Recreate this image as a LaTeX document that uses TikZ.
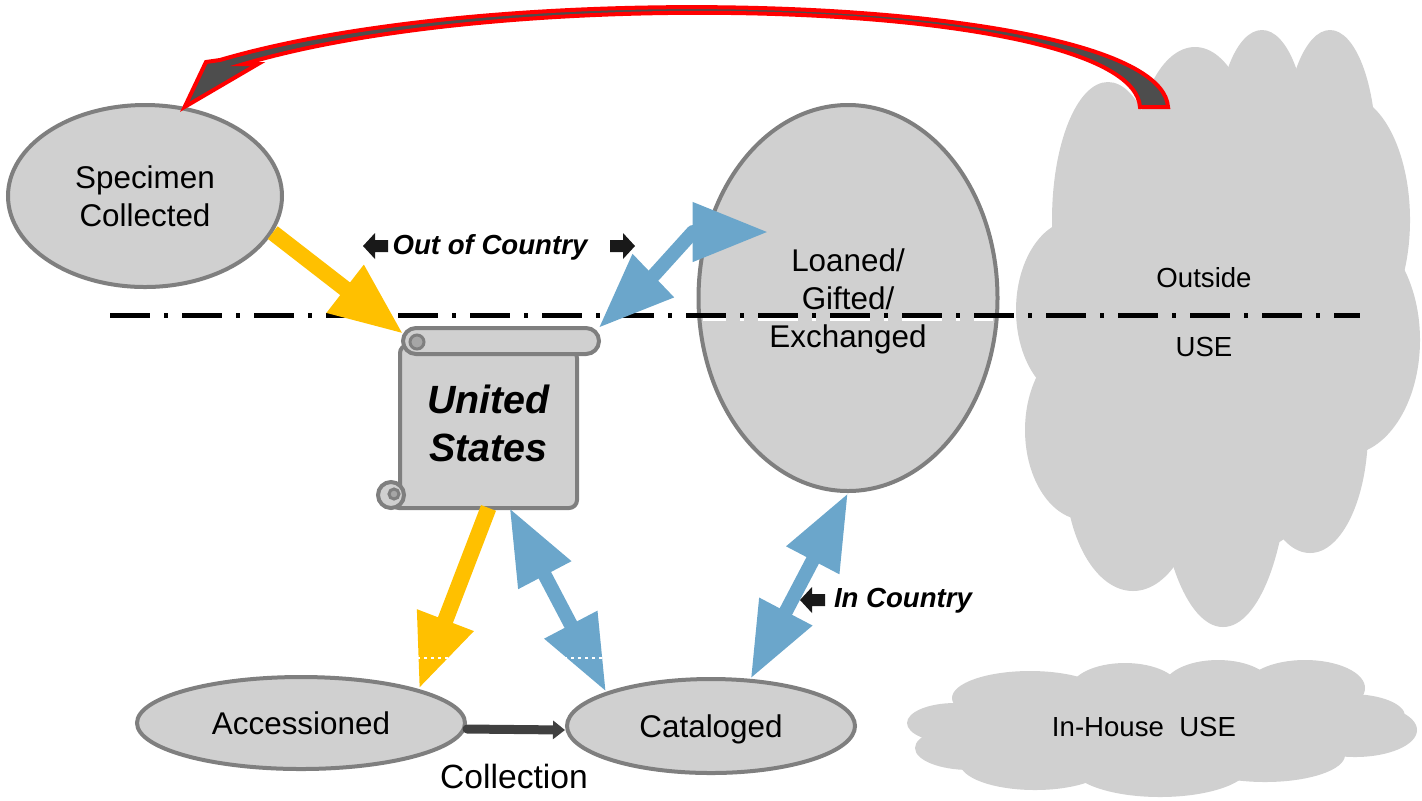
\documentclass[tikz,border=0pt]{standalone}
\usepackage{fontspec}
\setmainfont{Liberation Sans}
\usepackage{tikz}
\usetikzlibrary{arrows.meta,shapes.geometric}
\pgfdeclarelayer{background}
\pgfdeclarelayer{foreground}
\pgfsetlayers{background,main,foreground}
\definecolor{fillgray}{HTML}{D0D0D0}
\definecolor{rimgray}{HTML}{7F7F7F}
\definecolor{curlgray}{HTML}{A6A6A6}
\definecolor{gold}{HTML}{FFC000}
\definecolor{steel}{HTML}{6BA6CB}
\definecolor{inkgray}{HTML}{404040}
\definecolor{bandgray}{HTML}{4D4D4D}
\tikzset{
  stage/.style={ellipse, draw=rimgray, fill=fillgray, line width=2pt, inner sep=0pt, align=center, text depth=0pt, font=\fontsize{15.7}{19}\selectfont},
  scroll/.style={draw=rimgray, fill=fillgray, line width=2pt},
  goldflow/.style={draw=gold, line width=8pt, -{Triangle[length=37pt,width=28pt]}},
  blueflow/.style={draw=steel, line width=7pt, line join=round, {Triangle[length=38pt,width=28pt]}-{Triangle[length=38pt,width=28pt]}},
  puff/.style={fill=fillgray},
  tag/.style={font=\fontsize{13.8}{16}\selectfont\bfseries\itshape},
  plain/.style={font=\fontsize{13.8}{16}\selectfont},
  pointer/.style={fill=black!90},
  divider/.style={line width=2.5pt, dash pattern=on 20pt off 7pt on 2pt off 7pt}
}
\begin{document}
\begin{tikzpicture}[x=0.5pt,y=-0.5pt]
\useasboundingbox (0,0) rectangle (1422,800);
\begin{pgfonlayer}{background}
\fill[puff] (1108,220) ellipse[x radius=28pt,y radius=69pt];
\fill[puff] (1195,165) ellipse[x radius=30pt,y radius=59pt];
\fill[puff] (1262,140) ellipse[x radius=22.5pt,y radius=55pt];
\fill[puff] (1330,150) ellipse[x radius=23pt,y radius=60pt];
\fill[puff] (1345,220) ellipse[x radius=32.5pt,y radius=62.5pt];
\fill[puff] (1345,340) ellipse[x radius=37.5pt,y radius=57.5pt];
\fill[puff] (1310,430) ellipse[x radius=29pt,y radius=61.5pt];
\fill[puff] (1223,450) ellipse[x radius=33pt,y radius=88.5pt];
\fill[puff] (1133,470) ellipse[x radius=34pt,y radius=60.5pt];
\fill[puff] (1085,430) ellipse[x radius=30pt,y radius=45pt];
\fill[puff] (1075,310) ellipse[x radius=29.5pt,y radius=45pt];
\fill[puff] (1220,340) ellipse[x radius=75pt,y radius=110pt];
\fill[puff] (955,723) ellipse[x radius=24pt,y radius=10pt];
\fill[puff] (1030,698) ellipse[x radius=39pt,y radius=13.5pt];
\fill[puff] (1125,690) ellipse[x radius=27.5pt,y radius=13.5pt];
\fill[puff] (1218,688) ellipse[x radius=27.5pt,y radius=14pt];
\fill[puff] (1305,688) ellipse[x radius=30pt,y radius=14pt];
\fill[puff] (1350,716) ellipse[x radius=27.5pt,y radius=11pt];
\fill[puff] (1355,730) ellipse[x radius=31pt,y radius=13.5pt];
\fill[puff] (1265,755) ellipse[x radius=40pt,y radius=13.5pt];
\fill[puff] (1160,765) ellipse[x radius=45pt,y radius=16pt];
\fill[puff] (1035,763) ellipse[x radius=37.5pt,y radius=13.5pt];
\fill[puff] (970,748) ellipse[x radius=27.5pt,y radius=11pt];
\fill[puff] (1160,725) ellipse[x radius=110pt,y radius=22.5pt];
\end{pgfonlayer}
\node[stage, minimum width=137pt, minimum height=91pt] (spec) at (145,196) {Specimen\\Collected};
\filldraw[draw=red, fill=bandgray, line width=2pt] (1168,107) .. controls (1160,-2) and (520,-28) .. (220,60) -- (206,62) -- (spec.66) -- (258,64) -- (244,64) .. controls (520,-18) and (1132,0) .. (1140,107) -- cycle;
\node[stage, minimum width=149.5pt, minimum height=193pt] (loan) at (848,298) {Loaned/\\Gifted/\\Exchanged};
\node[stage, minimum width=164pt, minimum height=46pt] (acc) at (301,723) {Accessioned};
\node[stage, minimum width=144pt, minimum height=47pt] (cat) at (711,726) {Cataloged};
\filldraw[scroll, rounded corners=4pt] (400,345) -- (400,495) -- (391,508) -- (577,508) -- (577,350) -- cycle;
\filldraw[scroll, rounded corners=6.5pt] (403,328) rectangle (599,354);
\filldraw[scroll, fill=curlgray, line width=1.5pt] (417,342) circle[radius=3.5pt];
\filldraw[scroll] (391,495) circle[radius=6.5pt];
\filldraw[scroll, fill=curlgray, line width=1.5pt] (394,494) circle[radius=2.5pt];
\node[font=\fontsize{19.7}{24}\selectfont\bfseries\itshape, align=center, minimum width=88.5pt, minimum height=84pt, inner sep=0pt] (us) at (488.5,423.5) {United\\States};
\draw[divider] (110,315) -- (1360,315);
\draw[white, line width=1.5pt, dash pattern=on 20pt off 7pt on 2pt off 7pt, dash phase=8.5pt] (703,319) -- (993,319);
\node[tag] (outc) at (490,247) {Out of Country};
\fill[pointer] (363,246) -- (375,233) -- (375,240) -- (388,240) -- (388,252) -- (375,252) -- (375,259) -- cycle;
\fill[pointer] (635,246) -- (623,233) -- (623,240) -- (610,240) -- (610,252) -- (623,252) -- (623,259) -- cycle;
\node[tag] (inc) at (903,601) {In Country};
\fill[pointer] (800,600) -- (812,587) -- (812,594) -- (825,594) -- (825,606) -- (812,606) -- (812,613) -- cycle;
\node[plain] (outside) at (1204,278) {Outside};
\node[plain] (outuse) at (1204,347) {USE};
\node[plain] (house) at (1144,727) {In-House\ \ USE};
\node[font=\fontsize{16.8}{19}\selectfont] (coll) at (514,776) {Collection};
\begin{pgfonlayer}{foreground}
\draw[goldflow] (spec.-16) -- ([shift={(2pt,2.5pt)}]us.north west);
\draw[goldflow] (us.south) -- (acc.16);
\draw[blueflow] ([shift={(10.5pt,5.5pt)}]us.north east) -- (655,274) -- (693,232) -- ([shift={(36pt,33pt)}]loan.west);
\draw[blueflow] ([xshift=10.5pt]us.south) -- (cat.162);
\draw[blueflow] (cat.50) -- (loan.south);
\draw[inkgray, line width=4.5pt, line cap=round, -{Triangle[length=6pt,width=9pt]}] ([yshift=-3pt]acc.east) -- ([yshift=-2pt]cat.west);
\draw[white, line width=1pt, dash pattern=on 1.5pt off 2pt] (410,658) -- (610,658);
\end{pgfonlayer}
\end{tikzpicture}
\end{document}
